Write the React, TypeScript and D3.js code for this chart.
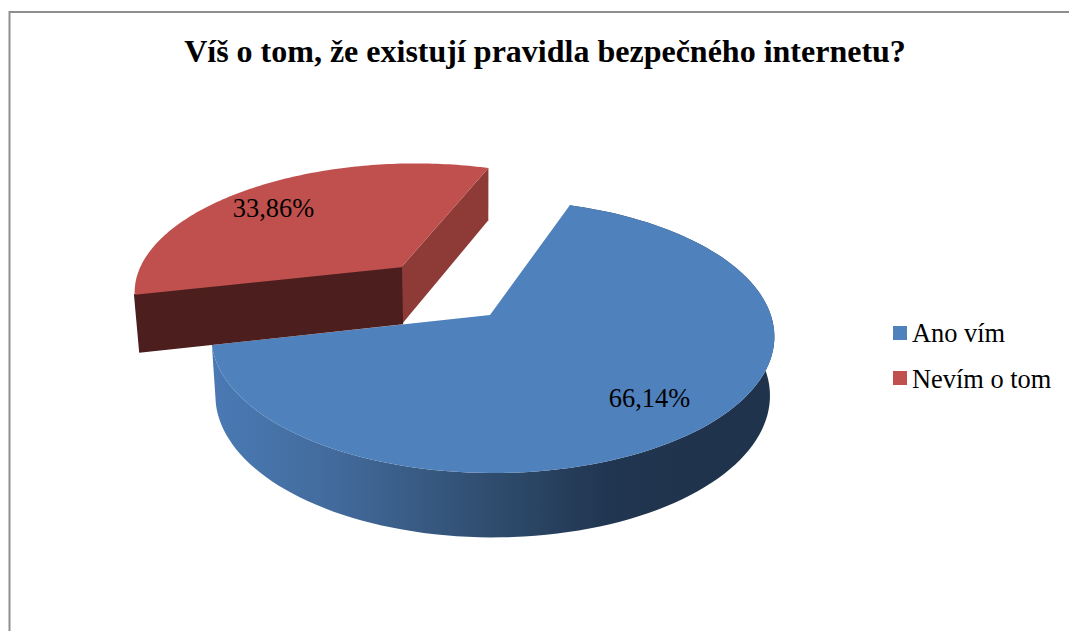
import React from "react";
import * as d3 from "d3";

const title = "Víš o tom, že existují pravidla bezpečného internetu?";
const categories = ["Ano vím", "Nevím o tom"];
const values = [66.14, 33.86];
const valueLabels = ["66,14%", "33,86%"];
const colors = ["#4f81bd", "#c0504d"];

const SERIF = "'Liberation Serif', 'Times New Roman', serif";
const W = 1069, H = 631;
const START = (19.2 * Math.PI) / 180;
const EXPLODE = [0, 0.51];
const RADIUS = [1, 1.012];

// Perspective projection of the tilted pie disc.
const X0 = 490, Y0 = 315, RX = 278, RY = 133.1, K = 0.1575, L = 0.01;
type P = [number, number];
const project = (x: number, y: number): P => {
  const w = 1 - K * y - L * x;
  return [X0 + (RX * x) / w, Y0 + (RY * y) / w];
};
// The lower face of the disc, seen lower and slightly narrower.
const lower = ([x, y]: P): P => [480 + (x - 480) * 0.985, y + 45.5 + 0.04 * y];

const pieGen = d3.pie<number>().sort(null).startAngle(START).endAngle(START + 2 * Math.PI);
const arcs = pieGen(values);
const line = d3.line<P>().curve(d3.curveLinear);

function slicePts(i: number) {
  const a = arcs[i];
  const mid = (a.startAngle + a.endAngle) / 2;
  const e = EXPLODE[i];
  const r = RADIUS[i];
  const ox = Math.sin(mid) * e, oy = -Math.cos(mid) * e;
  const n = 120;
  const rim = d3.range(n + 1).map((k) => {
    const t = a.startAngle + ((a.endAngle - a.startAngle) * k) / n;
    return project(r * Math.sin(t) + ox, -r * Math.cos(t) + oy);
  });
  return { apex: project(ox, oy), rim };
}

const blue = slicePts(0);
const red = slicePts(1);
const path = (pts: P[]) => (line(pts) as string) + "Z";

const wallGrad = d3.scaleLinear<string>()
  .domain([0, 0.22, 0.5, 0.72, 1])
  .range(["#4a79b4", "#426b9c", "#2f4c6e", "#20344e", "#1f334d"]);
const gradStops = d3.range(0, 1.01, 0.1);

export default function App() {
  const blueWall = [...blue.rim, ...blue.rim.slice().reverse().map(lower)];
  const redStart = red.rim[0];
  const redEnd = red.rim[red.rim.length - 1];
  return (
    <svg width={W} height={H} viewBox={`0 0 ${W} ${H}`}
      style={{ position: "absolute", left: 0, top: 0, display: "block", background: "#fff" }}>
      <defs>
        <linearGradient id="wall" gradientUnits="userSpaceOnUse" x1={212} x2={774} y1={0} y2={0}>
          {gradStops.map((s) => <stop key={s} offset={s} stopColor={wallGrad(s)} />)}
        </linearGradient>
      </defs>
      <path d={`M9.5 ${H}V12H${W}`} fill="none" stroke="#8f8f8f" strokeWidth={2} />
      <text x={545} y={62} textAnchor="middle" fontFamily={SERIF} fontWeight="bold" fontSize={32} fill="#000">{title}</text>

      <path d={path(blueWall)} fill="url(#wall)" />
      <path d={path([blue.apex, ...blue.rim])} fill={colors[0]} />

      <path d={path([red.apex, redEnd, lower(redEnd), lower(red.apex)])} fill="#8e3b38" />
      <path d={path([red.apex, redStart, lower(redStart), lower(red.apex)])} fill="#4c1f1e" stroke="#4c1f1e" strokeWidth={1.5} />
      <path d={path([red.apex, ...red.rim])} fill={colors[1]} />

      <text x={649.5} y={407} textAnchor="middle" fontFamily={SERIF} fontSize={26.4} fill="#000">{valueLabels[0]}</text>
      <text x={273.5} y={217} textAnchor="middle" fontFamily={SERIF} fontSize={26.4} fill="#000">{valueLabels[1]}</text>

      {categories.map((c, i) => (
        <g key={c}>
          <rect x={893} y={326 + i * 45} width={14} height={14} fill={colors[i]} />
          <text x={912} y={342 + i * 46} fontFamily={SERIF} fontSize={26.4} fill="#000">{c}</text>
        </g>
      ))}
    </svg>
  );
}
